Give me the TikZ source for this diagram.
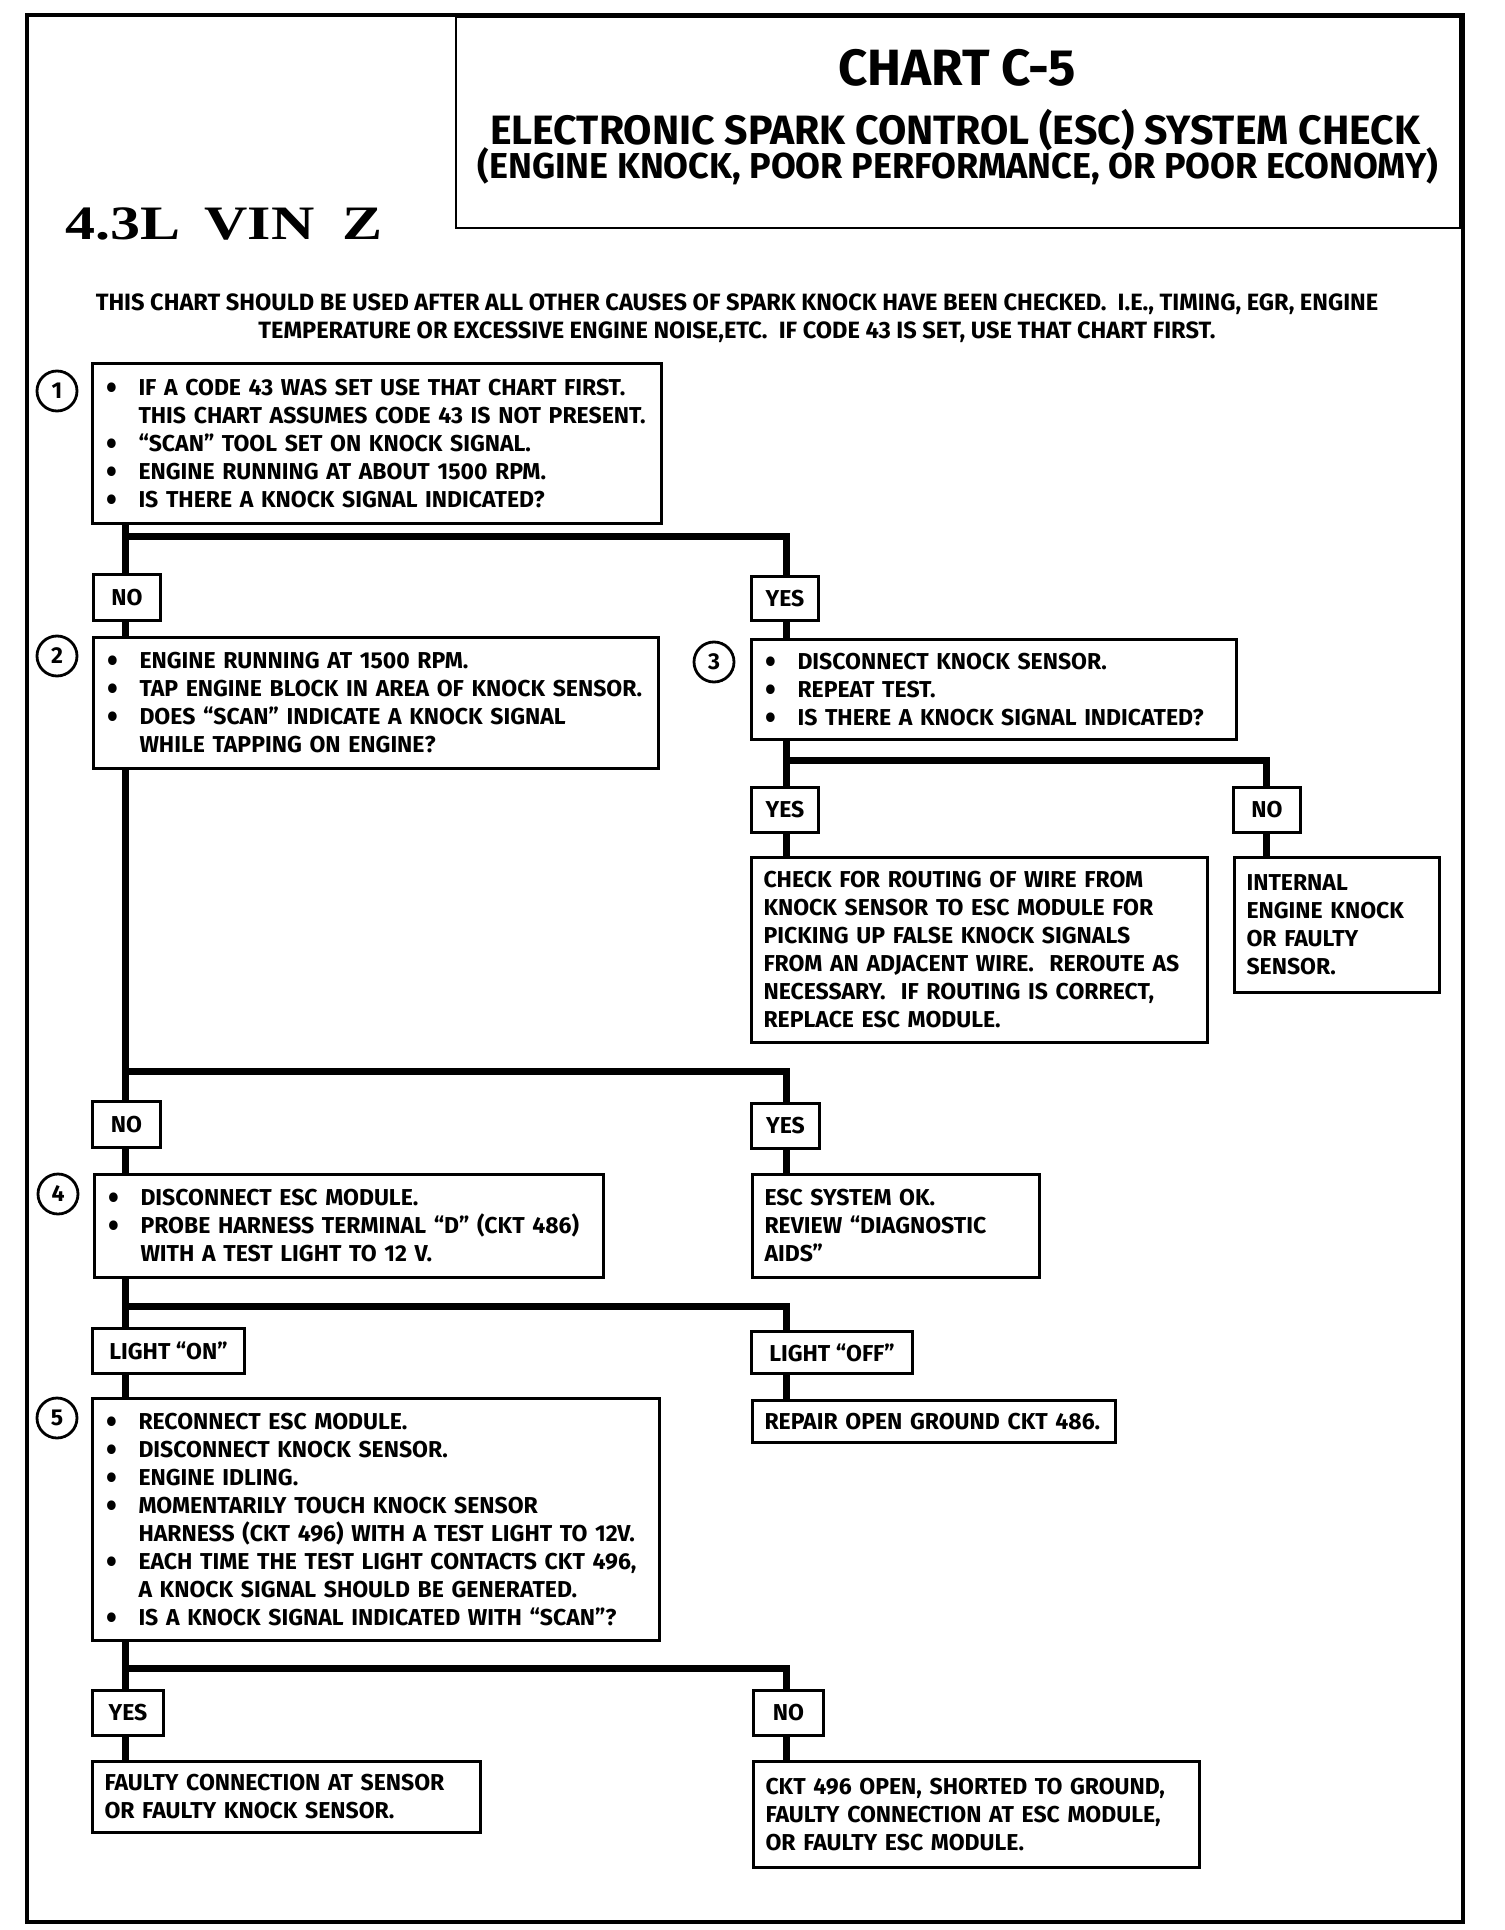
\documentclass[tikz,border=0pt]{standalone}
\usepackage{fontspec}
\setmainfont{Fira Sans}
\newfontfamily\vinfont{Liberation Serif}[FakeStretch=1.25]
\usetikzlibrary{math}

\newcommand{\txt}{\bfseries\fontsize{11.5}{14}\selectfont}
\newcommand{\bul}{\makebox[17pt][l]{\hspace{1pt}\smash{\raisebox{-1.9pt}{\scalebox{1.35}[1.5]{\textbullet}}}}}
\newcommand{\ind}{\hspace*{17pt}}

\tikzset{
  chkbox/.style={draw, line width=1.5pt, anchor=north west, inner xsep=6pt, inner ysep=0pt, align=left, font=\txt},
  lbl/.style={draw, line width=1.5pt, anchor=north west, inner sep=0pt, font=\txt},
  num/.style={draw, circle, line width=1.4pt, minimum size=20pt, inner sep=0pt, font=\txt},
  trunk/.style={line width=3.5pt},
}

\begin{document}
\begin{tikzpicture}[x=0.5pt,y=-0.5pt]
\tikzmath{
\xl=125;
\xr=786;
\xn=1266;
}
\useasboundingbox[fill=white] (0,0) rectangle (1504,1930);

% frame and heading
\draw[line width=2.2pt] (27,15) rectangle (1463,1922);
\draw[line width=1.3pt] (456,17) rectangle (1460,228);
\node[font=\bfseries\fontsize{25.5}{30}\selectfont] (chart) at (957,68) {CHART C-5};
\node[font=\bfseries\fontsize{20.5}{24}\selectfont] (title) at (955,130) {ELECTRONIC SPARK CONTROL (ESC) SYSTEM CHECK};
\node[font=\bfseries\fontsize{18}{22}\selectfont] (sub) at (958,166) {(ENGINE KNOCK, POOR PERFORMANCE, OR POOR ECONOMY)};
\node[anchor=west, inner sep=0pt, font=\vinfont\bfseries\fontsize{24}{28}\selectfont] (vin) at (65,224) {4.3L\hspace{12pt}VIN\hspace{14pt}Z};
\node[align=center, font=\bfseries\fontsize{11.8}{14}\selectfont] (intro) at (737,318)
  {THIS CHART SHOULD BE USED AFTER ALL OTHER CAUSES OF SPARK KNOCK HAVE BEEN CHECKED.\ \ I.E., TIMING, EGR, ENGINE\\
   TEMPERATURE OR EXCESSIVE ENGINE NOISE,ETC.\ \ IF CODE 43 IS SET, USE THAT CHART FIRST.};

% steps
\node[chkbox, text width=272.5pt, minimum height=80pt] (box1) at (91,362)
  {\bul IF A CODE 43 WAS SET USE THAT CHART FIRST.\\
   \ind THIS CHART ASSUMES CODE 43 IS NOT PRESENT.\\
   \bul “SCAN” TOOL SET ON KNOCK SIGNAL.\\
   \bul ENGINE RUNNING AT ABOUT 1500 RPM.\\
   \bul IS THERE A KNOCK SIGNAL INDICATED?};
\node[chkbox, text width=270.5pt, minimum height=65.5pt] (box2) at (92,636)
  {\bul ENGINE RUNNING AT 1500 RPM.\\
   \bul TAP ENGINE BLOCK IN AREA OF KNOCK SENSOR.\\
   \bul DOES “SCAN” INDICATE A KNOCK SIGNAL\\
   \ind WHILE TAPPING ON ENGINE?};
\node[chkbox, text width=230.5pt, minimum height=50pt] (box3) at (750,638)
  {\bul DISCONNECT KNOCK SENSOR.\\
   \bul REPEAT TEST.\\
   \bul IS THERE A KNOCK SIGNAL INDICATED?};
\node[chkbox, text width=216pt, minimum height=92.5pt] (route) at (750,856)
  {CHECK FOR ROUTING OF WIRE FROM\\
   KNOCK SENSOR TO ESC MODULE FOR\\
   PICKING UP FALSE KNOCK SIGNALS\\
   FROM AN ADJACENT WIRE.\ \ REROUTE AS\\
   NECESSARY.\ \ IF ROUTING IS CORRECT,\\
   REPLACE ESC MODULE.};
\node[chkbox, text width=90.5pt, minimum height=67.5pt] (inter) at (1233,856)
  {INTERNAL\\ ENGINE KNOCK\\ OR FAULTY\\ SENSOR.};
\node[chkbox, text width=242.5pt, minimum height=51.5pt] (box4) at (93,1173)
  {\bul DISCONNECT ESC MODULE.\\
   \bul PROBE HARNESS TERMINAL “D” (CKT 486)\\
   \ind WITH A TEST LIGHT TO 12 V.};
\node[chkbox, text width=131.5pt, minimum height=51.5pt] (sysok) at (751,1173)
  {ESC SYSTEM OK.\\ REVIEW “DIAGNOSTIC\\ AIDS”};
\node[chkbox, text width=271.5pt, minimum height=121pt] (box5) at (91,1397)
  {\bul RECONNECT ESC MODULE.\\
   \bul DISCONNECT KNOCK SENSOR.\\
   \bul ENGINE IDLING.\\
   \bul MOMENTARILY TOUCH KNOCK SENSOR\\
   \ind HARNESS (CKT 496) WITH A TEST LIGHT TO 12V.\\
   \bul EACH TIME THE TEST LIGHT CONTACTS CKT 496,\\
   \ind A KNOCK SIGNAL SHOULD BE GENERATED.\\
   \bul IS A KNOCK SIGNAL INDICATED WITH “SCAN”?};
\node[chkbox, text width=169.5pt, minimum height=21pt] (ground) at (751,1399)
  {REPAIR OPEN GROUND CKT 486.};
\node[chkbox, text width=182pt, minimum height=35.5pt] (sensor) at (91,1760)
  {FAULTY CONNECTION AT SENSOR\\ OR FAULTY KNOCK SENSOR.};
\node[chkbox, text width=211pt, minimum height=53pt] (module) at (752,1760)
  {CKT 496 OPEN, SHORTED TO GROUND,\\ FAULTY CONNECTION AT ESC MODULE,\\ OR FAULTY ESC MODULE.};

\node[num] (n1) at (57,391) {1};
\node[num] (n2) at (57,656) {2};
\node[num] (n3) at (714,662) {3};
\node[num] (n4) at (58,1194) {4};
\node[num] (n5) at (57,1418) {5};

% answers
\node[lbl, minimum width=33.5pt, minimum height=23pt] (no1) at (92,573) {NO};
\node[lbl, minimum width=33.5pt, minimum height=22pt] (yes1) at (750,575) {YES};
\node[lbl, minimum width=33.5pt, minimum height=22.5pt] (yes3) at (750,786) {YES};
\node[lbl, minimum width=33.5pt, minimum height=22.5pt] (no3) at (1232,786) {NO};
\node[lbl, minimum width=34pt, minimum height=23pt] (no2) at (91,1100) {NO};
\node[lbl, minimum width=34pt, minimum height=22.5pt] (yes2) at (750,1102) {YES};
\node[lbl, minimum width=76pt, minimum height=22.5pt] (on) at (91,1327) {LIGHT “ON”};
\node[lbl, minimum width=80.5pt, minimum height=21pt] (off) at (750,1330) {LIGHT “OFF”};
\node[lbl, minimum width=35.5pt, minimum height=22.5pt] (yes5) at (91,1689) {YES};
\node[lbl, minimum width=35pt, minimum height=22.5pt] (no5) at (752,1689) {NO};

\coordinate (j1l) at (\xl,537);
\coordinate (j1r) at (\xr,537);
\coordinate (j3l) at (\xr,760);
\coordinate (j3r) at (\xn,760);
\coordinate (j2l) at (\xl,1071);
\coordinate (j2r) at (\xr,1071);
\coordinate (j4l) at (\xl,1306);
\coordinate (j4r) at (\xr,1306);
\coordinate (j5l) at (\xl,1668);
\coordinate (j5r) at (\xr,1668);

\draw[trunk] (box1.south -| j1l) -- (no1.north -| j1l);
\draw[trunk] (j1l) -- (j1r) -- (yes1.north -| j1r);
\draw[trunk] (no1.south -| j1l) -- (box2.north -| j1l);
\draw[trunk] (yes1.south -| j1r) -- (box3.north -| j1r);

\draw[trunk] (box3.south -| j3l) -- (yes3.north -| j3l);
\draw[trunk] (j3l) -- (j3r) -- (no3.north -| j3r);
\draw[trunk] (yes3.south -| j3l) -- (route.north -| j3l);
\draw[trunk] (no3.south -| j3r) -- (inter.north -| j3r);

\draw[trunk] (box2.south -| j2l) -- (no2.north -| j2l);
\draw[trunk] (j2l) -- (j2r) -- (yes2.north -| j2r);
\draw[trunk] (no2.south -| j2l) -- (box4.north -| j2l);
\draw[trunk] (yes2.south -| j2r) -- (sysok.north -| j2r);

\draw[trunk] (box4.south -| j4l) -- (on.north -| j4l);
\draw[trunk] (j4l) -- (j4r) -- (off.north -| j4r);
\draw[trunk] (on.south -| j4l) -- (box5.north -| j4l);
\draw[trunk] (off.south -| j4r) -- (ground.north -| j4r);

\draw[trunk] (box5.south -| j5l) -- (yes5.north -| j5l);
\draw[trunk] (j5l) -- (j5r) -- (no5.north -| j5r);
\draw[trunk] (yes5.south -| j5l) -- (sensor.north -| j5l);
\draw[trunk] (no5.south -| j5r) -- (module.north -| j5r);

\end{tikzpicture}
\end{document}
